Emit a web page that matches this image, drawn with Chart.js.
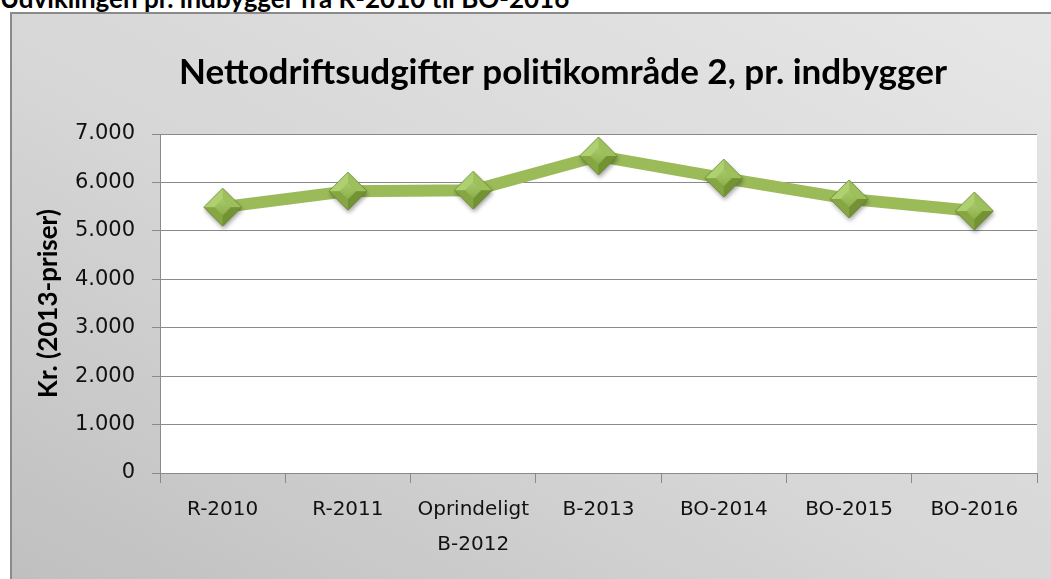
<!DOCTYPE html>
<html lang="da">
<head>
    <meta charset="UTF-8">
    <title>Nettodriftsudgifter politikområde 2</title>
    <script src="https://cdn.jsdelivr.net/npm/chart.js"></script>
    <style>
        html, body { margin: 0; padding: 0; overflow: hidden; background: #fff; }
        body { width: 1051px; height: 579px; position: relative; }
        .overskrift {
            position: absolute; left: 0; top: -15px;
            font: bold 26px Lato, sans-serif; line-height: 26px; color: #000;
            white-space: nowrap;
        }
        .ramme {
            position: absolute; left: 10px; top: 12px; width: 1140px; height: 620px;
            border: 2px solid #8a8a8a;
            background: linear-gradient(to top right, #bdbdbd, #d6d6d6 45%, #e8e8e8);
        }
        #graf { position: absolute; left: 0; top: 0; }
    </style>
</head>
<body>

    <div class="overskrift">Udviklingen pr. indbygger fra R-2010 til BO-2016</div>
    <div class="ramme"></div>
    <canvas id="graf" width="1126" height="579"></canvas>

    <script>
        // data
        const kategorier = ['R-2010', 'R-2011', ['Oprindeligt', 'B-2012'], 'B-2013', 'BO-2014', 'BO-2015', 'BO-2016'];
        const udgifter = [5490, 5820, 5840, 6545, 6090, 5660, 5410];
        const yTickLabels = ['0', '1.000', '2.000', '3.000', '4.000', '5.000', '6.000', '7.000'];

        const titel = 'Nettodriftsudgifter politikområde 2, pr. indbygger';
        const yTitel = 'Kr. (2013-priser)';

        // diamant-markør med lidt "bevel" som i Excel
        function lavDiamant(r) {
            const pad = 7;
            const size = 2 * (r + pad);
            const c = document.createElement('canvas');
            c.width = size; c.height = size;
            const g = c.getContext('2d');
            const cx = size / 2, cy = size / 2;
            const ir = r * 0.42;

            function poly(pts, farve) {
                g.beginPath();
                g.moveTo(pts[0][0], pts[0][1]);
                for (let i = 1; i < pts.length; i++) g.lineTo(pts[i][0], pts[i][1]);
                g.closePath();
                g.fillStyle = farve;
                g.fill();
            }

            const L = [cx - r, cy], T = [cx, cy - r], R = [cx + r, cy], B = [cx, cy + r];
            const iL = [cx - ir, cy], iT = [cx, cy - ir], iR = [cx + ir, cy], iB = [cx, cy + ir];

            g.save();
            g.shadowColor = 'rgba(0,0,0,0.35)';
            g.shadowBlur = 4;
            g.shadowOffsetX = 1;
            g.shadowOffsetY = 3;
            poly([L, T, R, B], '#8fb44b');
            g.restore();

            poly([L, T, iT, iL], '#afd070');
            poly([T, R, iR, iT], '#9dc05c');
            poly([R, B, iB, iR], '#729234');
            poly([B, L, iL, iB], '#85a643');

            const grad = g.createLinearGradient(cx, cy - ir, cx, cy + ir);
            grad.addColorStop(0, '#a8c968');
            grad.addColorStop(1, '#8db04c');
            poly([iL, iT, iR, iB], grad);

            g.beginPath();
            g.moveTo(L[0], L[1]); g.lineTo(T[0], T[1]); g.lineTo(R[0], R[1]); g.lineTo(B[0], B[1]);
            g.closePath();
            g.strokeStyle = 'rgba(95,125,40,0.7)';
            g.lineWidth = 1;
            g.stroke();
            return c;
        }

        const hvidPlot = {
            id: 'hvidPlot',
            beforeDraw(chart) {
                const a = chart.chartArea;
                const ctx = chart.ctx;
                ctx.save();
                ctx.fillStyle = '#ffffff';
                ctx.fillRect(a.left, a.top, a.right - a.left, a.bottom - a.top);
                ctx.restore();
            }
        };

        const gitterFarve = '#8a8a8a';

        new Chart(document.getElementById('graf'), {
            type: 'line',
            data: {
                labels: kategorier,
                datasets: [{
                    label: 'Nettodriftsudgifter',
                    data: udgifter,
                    borderColor: '#9bbb59',
                    borderWidth: 12,
                    pointStyle: lavDiamant(19),
                    pointRadius: 19,
                    pointHoverRadius: 19,
                    tension: 0
                }]
            },
            options: {
                responsive: false,
                devicePixelRatio: 1,
                animation: false,
                layout: { padding: 0 },
                plugins: {
                    legend: { display: false },
                    tooltip: { enabled: false },
                    title: {
                        display: true,
                        text: titel,
                        color: '#000',
                        font: { family: 'Lato', size: 35, weight: 'bold', lineHeight: 1.2 },
                        padding: { top: 52, bottom: 40 }
                    }
                },
                scales: {
                    x: {
                        offset: true,
                        grid: {
                            offset: true,
                            drawOnChartArea: false,
                            drawTicks: true,
                            tickLength: 10,
                            color: gitterFarve
                        },
                        border: { color: gitterFarve },
                        ticks: {
                            color: '#111',
                            padding: 9,
                            maxRotation: 0,
                            autoSkip: false,
                            font: { family: 'DejaVu Sans', size: 20, lineHeight: 1.75 }
                        },
                        afterFit(scale) { scale.height = 106; }
                    },
                    y: {
                        min: 0,
                        max: 7000,
                        ticks: {
                            stepSize: 1000,
                            color: '#111',
                            padding: 17,
                            font: { family: 'DejaVu Sans', size: 21 },
                            callback: (v, i) => yTickLabels[i]
                        },
                        grid: { color: gitterFarve, tickLength: 8 },
                        border: { color: gitterFarve },
                        title: {
                            display: true,
                            text: yTitel,
                            color: '#000',
                            font: { family: 'Lato', size: 26, weight: 'bold', lineHeight: 1.2 },
                            padding: { top: 33, bottom: 0 }
                        },
                        afterFit(scale) { scale.width = 160; }
                    },
                    // tom akse til højre, så titlen centreres som i originalen
                    hoejre: {
                        type: 'linear',
                        position: 'right',
                        display: true,
                        grid: { display: false },
                        border: { display: false },
                        ticks: { display: false },
                        afterFit(scale) { scale.width = 89; }
                    }
                }
            },
            plugins: [hvidPlot]
        });
    </script>

</body>
</html>
